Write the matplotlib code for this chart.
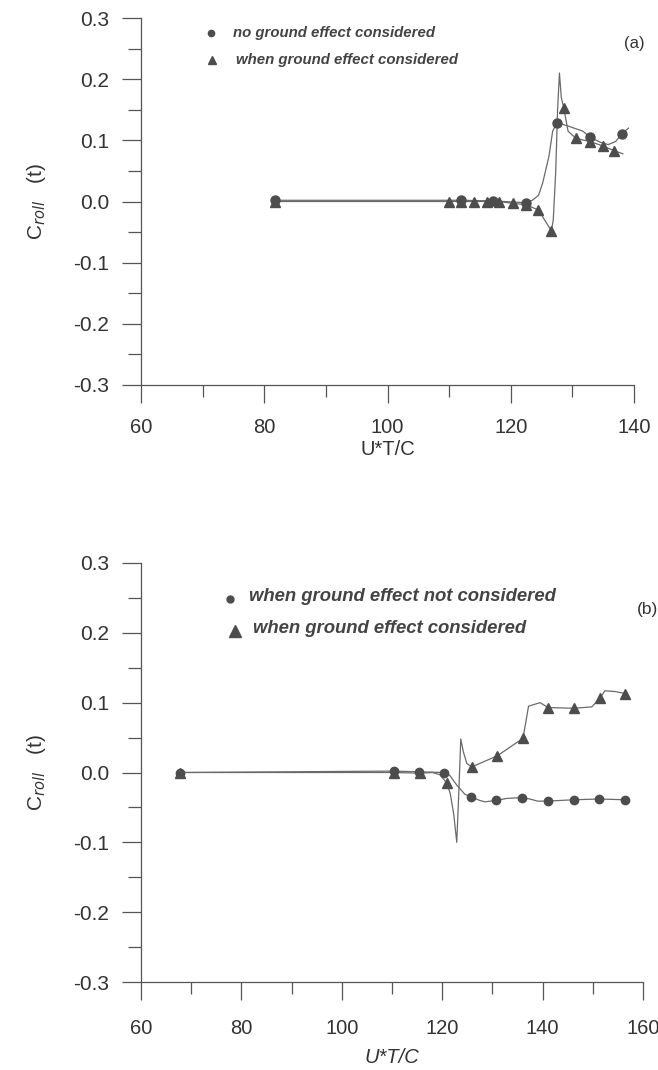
import matplotlib
matplotlib.use("Agg")
import matplotlib.pyplot as plt
from matplotlib.ticker import MultipleLocator, FormatStrFormatter

plt.rcParams['font.family'] = ['Liberation Sans', 'DejaVu Sans']

# ---- panel (a): sampled points ----
a_no_x = [81.7, 112.0, 117.2, 122.4, 127.5, 132.9, 138.1]
a_no_y = [0.002, 0.002, 0.001, -0.002, 0.129, 0.105, 0.111]
a_ge_x = [81.7, 110.0, 112.0, 114.0, 116.1, 118.1, 120.3, 122.4, 124.5,
          126.6, 128.6, 130.6, 132.9, 134.9, 136.8]
a_ge_y = [0.0, 0.0, 0.0, 0.0, 0.0, 0.0, -0.003, -0.005, -0.014,
          -0.048, 0.153, 0.103, 0.098, 0.091, 0.083]

# ---- panel (a): continuous curves ----
a_no_cx = [81.7, 112.0, 117.2, 122.4, 123.5, 124.5, 125.2, 126.2, 126.8, 127.5,
           129.4, 131.7, 132.9, 134.5, 135.8, 137.0, 138.1, 139.1]
a_no_cy = [0.002, 0.002, 0.001, -0.002, 0.002, 0.010, 0.031, 0.074, 0.115, 0.129,
           0.123, 0.115, 0.105, 0.097, 0.093, 0.098, 0.111, 0.120]
a_ge_cx = [81.7, 110.0, 118.1, 120.3, 122.4, 124.5, 126.6, 126.9, 127.3, 127.6,
           127.9, 128.2, 128.6, 129.3, 130.6, 132.9, 134.9, 136.8, 138.2]
a_ge_cy = [0.0, 0.0, 0.0, -0.003, -0.005, -0.014, -0.048, -0.030, 0.050, 0.150,
           0.210, 0.170, 0.153, 0.115, 0.103, 0.098, 0.091, 0.083, 0.078]

# ---- panel (b): sampled points ----
b_no_x = [67.8, 110.4, 115.4, 120.4, 125.7, 130.7, 135.8, 141.0, 146.2, 151.3, 156.4]
b_no_y = [0.0, 0.002, 0.001, 0.0, -0.035, -0.040, -0.036, -0.041, -0.039, -0.038, -0.039]
b_ge_x = [67.8, 110.4, 115.6, 120.9, 125.9, 131.0, 136.1, 141.1, 146.3, 151.4, 156.5]
b_ge_y = [0.0, 0.0, -0.001, -0.015, 0.008, 0.024, 0.049, 0.093, 0.092, 0.106, 0.113]

# ---- panel (b): continuous curves ----
b_no_cx = [67.8, 110.4, 115.4, 120.4, 121.5, 122.9, 124.5, 125.7, 127.5, 128.5,
           130.7, 133.0, 135.8, 137.5, 139.0, 141.0, 146.2, 151.3, 156.4]
b_no_cy = [0.0, 0.002, 0.001, 0.0, -0.004, -0.018, -0.031, -0.035, -0.040, -0.042,
           -0.040, -0.037, -0.036, -0.038, -0.041, -0.041, -0.039, -0.038, -0.039]
b_ge_cx = [67.8, 110.4, 115.6, 118.0, 119.5, 120.9, 121.6, 122.3, 122.9, 123.3,
           123.7, 124.2, 124.9, 125.9, 131.0, 136.1, 137.2, 139.5, 141.1, 146.3,
           149.8, 151.4, 152.4, 154.4, 156.5]
b_ge_cy = [0.0, 0.0, -0.001, 0.0, -0.003, -0.015, -0.030, -0.060, -0.100, -0.030,
           0.048, 0.030, 0.013, 0.008, 0.024, 0.049, 0.095, 0.100, 0.093, 0.092,
           0.094, 0.106, 0.117, 0.116, 0.113]

W, H = 658, 1070
fig = plt.figure(figsize=(W / 100, H / 100), dpi=100)

line_c = '#6a6a6a'
mark_c = '#4d4d4d'
axis_c = '#555555'
text_c = '#333333'
PT = 0.72  # points per pixel at 100 dpi


def make_axes(px_left, px_right, px_top, px_bottom):
    return fig.add_axes([px_left / W, 1 - px_bottom / H,
                         (px_right - px_left) / W, (px_bottom - px_top) / H])


def style_axes(ax, xmax, xlabel_italic):
    ax.set_ylim(-0.3, 0.3)
    ax.set_xlim(60, xmax)
    for side in ('top', 'right'):
        ax.spines[side].set_visible(False)
    for side in ('left', 'bottom'):
        ax.spines[side].set_color(axis_c)
        ax.spines[side].set_linewidth(0.9)
    ax.yaxis.set_major_locator(MultipleLocator(0.1))
    ax.yaxis.set_minor_locator(MultipleLocator(0.05))
    ax.yaxis.set_major_formatter(FormatStrFormatter('%.1f'))
    ax.xaxis.set_major_locator(MultipleLocator(20))
    ax.xaxis.set_minor_locator(MultipleLocator(10))
    ax.tick_params(axis='both', which='both', direction='out', colors=axis_c,
                   labelcolor=text_c, width=0.9)
    ax.tick_params(axis='y', which='major', length=19 * PT, pad=13 * PT, labelsize=15)
    ax.tick_params(axis='y', which='minor', length=13 * PT)
    ax.tick_params(axis='x', which='major', length=18 * PT, pad=15 * PT, labelsize=14.5)
    ax.tick_params(axis='x', which='minor', length=12 * PT)
    ax.set_ylabel(r'C$_{\mathit{roll}}$   (t)', fontsize=15, color=text_c, labelpad=18)
    ax.set_xlabel('U*T/C', fontsize=14.5, color=text_c, labelpad=2,
                  style='italic' if xlabel_italic else 'normal')
    ax.patch.set_alpha(0)


# ---------- (a) ----------
ax1 = make_axes(141, 634, 18, 385)
style_axes(ax1, 140, False)
ax1.plot(a_no_cx, a_no_cy, color=line_c, lw=0.9, zorder=2)
ax1.plot(a_ge_cx, a_ge_cy, color=line_c, lw=0.9, zorder=2)
ax1.plot(a_ge_x, a_ge_y, '^', color=mark_c, ms=7, zorder=3, clip_on=False)
ax1.plot(a_no_x, a_no_y, 'o', color=mark_c, ms=6.5, zorder=3, clip_on=False)
ax1.plot([71.4], [0.276], 'o', color=mark_c, ms=4.5, clip_on=False)
ax1.plot([71.6], [0.232], '^', color=mark_c, ms=6, clip_on=False)
ax1.text(75.0, 0.276, 'no ground effect considered', fontsize=10.8, style='italic',
         weight='bold', color='#444444', va='center')
ax1.text(75.4, 0.232, 'when ground effect considered', fontsize=10.8, style='italic',
         weight='bold', color='#444444', va='center')
ax1.text(140.0, 0.258, '(a)', fontsize=12, color=text_c, va='center', ha='center')

# ---------- (b) ----------
ax2 = make_axes(141, 643, 563, 982)
style_axes(ax2, 160, True)
ax2.tick_params(axis='x', which='major', pad=19 * PT)
ax2.xaxis.labelpad = 7
ax2.plot(b_no_cx, b_no_cy, color=line_c, lw=0.9, zorder=2)
ax2.plot(b_ge_cx, b_ge_cy, color=line_c, lw=0.9, zorder=2)
ax2.plot(b_ge_x, b_ge_y, '^', color=mark_c, ms=7.5, zorder=3, clip_on=False)
ax2.plot(b_no_x, b_no_y, 'o', color=mark_c, ms=6, zorder=3, clip_on=False)
ax2.plot([77.8], [0.249], 'o', color=mark_c, ms=5, clip_on=False)
ax2.plot([78.7], [0.203], '^', color=mark_c, ms=8, clip_on=False)
ax2.text(81.5, 0.252, 'when ground effect not considered', fontsize=13.3, style='italic',
         weight='bold', color='#444444', va='center')
ax2.text(82.4, 0.206, 'when ground effect considered', fontsize=13.3, style='italic',
         weight='bold', color='#444444', va='center')
ax2.text(163.0, 0.233, '(b)', fontsize=12.5, color=text_c, va='center', ha='right',
         clip_on=False)

fig.savefig('out.png', dpi=100, facecolor='white')
